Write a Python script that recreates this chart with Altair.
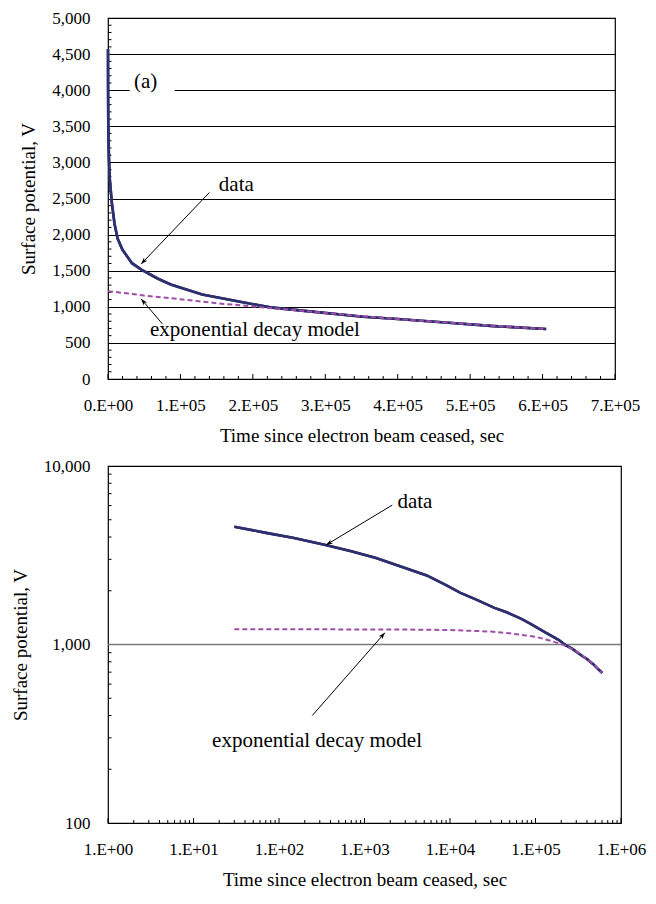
import math
import altair as alt
import pandas as pd

# ---------------- data ----------------
data_t = [30, 68, 150, 350, 700, 1365, 2500, 5350, 9000, 13270, 20000, 33100, 46000,
          68400, 86600, 130000, 186000, 224000, 268000, 352000, 400000, 470000, 533000, 605000]
data_v = [4570, 4235, 3950, 3612, 3330, 3048, 2760, 2437, 2150, 1945, 1790, 1604, 1515,
          1392, 1310, 1170, 1062, 992, 947, 862, 830, 778, 732, 692]

model_t = [30, 300, 3000, 10000, 30000, 50000, 100000, 150000, 200000, 250000,
           300000, 350000, 400000, 450000, 500000, 550000, 605000]
model_v = [1216, 1216, 1213, 1205, 1182, 1155, 1105, 1050, 1005, 960,
           915, 872, 830, 795, 760, 725, 692]

# axis tick values
top_x_ticks = [0, 100000, 200000, 300000, 400000, 500000, 600000, 700000]
top_y_ticks = [0, 500, 1000, 1500, 2000, 2500, 3000, 3500, 4000, 4500, 5000]
bot_x_ticks = [1, 10, 100, 1000, 10000, 100000, 1000000]
bot_y_ticks = [100, 1000, 10000]

# annotations (top panel, linear)
top_txt = ["(a)", "data", "exponential decay model"]
top_txt_t = [52000, 153000, 58000]
top_txt_v = [4116, 2693, 677]
top_txt_align = ["center", "left", "left"]
top_arr_t1 = [140000, 75000]
top_arr_v1 = [2583, 764]
top_arr_t2 = [45800, 45800]
top_arr_v2 = [1593, 1109]
label_box_t = [30000, 92000]
label_box_v = [3880, 4230]

# annotations (bottom panel, log-log)
bot_txt = ["data", "exponential decay model"]
bot_txt_t = [2427, 16.5]
bot_txt_v = [6245, 287]
bot_arr_t1 = [2113, 245]
bot_arr_v1 = [6039, 400]
bot_arr_t2 = [356, 1730]
bot_arr_v2 = [3613, 1163]

FONT = "Liberation Serif"
NAVY = "#2E2F6E"
MAGENTA = "#A04FA6"
W1, H1 = 507, 361
W2, H2 = 513, 357
XT = "Time since electron beam ceased, sec"
YT = "Surface potential, V"
ARROW = "M0,0L-0.8,2.2L0,1.6L0.8,2.2Z"


def angle_of(x1, y1, x2, y2):
    dx, dy = x2 - x1, y2 - y1
    return math.degrees(math.atan2(dx, -dy)) % 360


def px_top(t, v):
    return t / 7e5 * W1, H1 - v / 5000 * H1


def px_bot(t, v):
    return math.log10(t) / 6 * W2, H2 - (math.log10(v) - 2) / 2 * H2


def build_panel(xs, ys, W, H, lines, txt, arr, box, x_axis, y_axis,
                major_x, minor_x, minor_y, grid_rule, pxf, left_pad):
    def X(f):
        return alt.X(f, scale=xs, axis=x_axis, title=XT)

    def Y(f):
        return alt.Y(f, scale=ys, axis=y_axis, title=YT)

    layers = []
    dt, dv, mt, mv = lines
    layers.append(alt.Chart(pd.DataFrame({"t": dt, "v": dv})).mark_line(
        color=NAVY, strokeWidth=2.6).encode(x=X("t:Q"), y=Y("v:Q")))
    if box is not None:
        bdf = pd.DataFrame({"t": [box[0][0]], "t2": [box[0][1]],
                            "v": [box[1][0]], "v2": [box[1][1]]})
        layers.append(alt.Chart(bdf).mark_rect(color="white").encode(
            x=X("t:Q"), x2="t2:Q", y=Y("v:Q"), y2="v2:Q"))
    if grid_rule is not None:
        layers.append(alt.Chart(pd.DataFrame({"v": grid_rule})).mark_rule(
            color="#7a7a7a", strokeWidth=1.6).encode(y=Y("v:Q")))
    # invisible layout spacer (fixes the left extent of the panel)
    layers.append(alt.Chart(pd.DataFrame({"v": [0]})).mark_rule(
        color="white", strokeWidth=1).encode(
        x=alt.value(-left_pad), x2=alt.value(-left_pad + 2), y=alt.value(H / 2)))
    layers.append(alt.Chart(pd.DataFrame({"t": major_x})).mark_rule(
        color="black", strokeWidth=1).encode(
        x=X("t:Q"), y=alt.value(H), y2=alt.value(H - 5)))
    layers.append(alt.Chart(pd.DataFrame({"t": minor_x})).mark_rule(
        color="black", strokeWidth=1).encode(
        x=X("t:Q"), y=alt.value(H), y2=alt.value(H - 3)))
    layers.append(alt.Chart(pd.DataFrame({"v": minor_y})).mark_rule(
        color="black", strokeWidth=1).encode(
        y=Y("v:Q"), x=alt.value(0), x2=alt.value(3.5)))
    layers.append(alt.Chart(pd.DataFrame({"t": dt, "v": dv})).mark_line(
        color=NAVY, strokeWidth=2.6).encode(x=X("t:Q"), y=Y("v:Q")))
    layers.append(alt.Chart(pd.DataFrame({"t": mt, "v": mv})).mark_line(
        color=MAGENTA, strokeWidth=2, strokeDash=[5, 3]).encode(
        x=X("t:Q"), y=Y("v:Q")))
    tx, tt, tv, ta = txt
    for s, t, v, a in zip(tx, tt, tv, ta):
        layers.append(alt.Chart(pd.DataFrame({"t": [t], "v": [v], "s": [s]})).mark_text(
            font=FONT, fontSize=21, align=a, baseline="middle", color="black").encode(
            x=X("t:Q"), y=Y("v:Q"), text="s:N"))
    a_t1, a_v1, a_t2, a_v2 = arr
    adf = pd.DataFrame({"t": a_t1, "v": a_v1, "t2": a_t2, "v2": a_v2})
    angs = []
    for i in range(len(a_t1)):
        p1 = pxf(a_t1[i], a_v1[i])
        p2 = pxf(a_t2[i], a_v2[i])
        angs.append(angle_of(p1[0], p1[1], p2[0], p2[1]))
    adf["ang"] = angs
    layers.append(alt.Chart(adf).mark_rule(color="black", strokeWidth=1).encode(
        x=X("t:Q"), x2="t2:Q", y=Y("v:Q"), y2="v2:Q"))
    layers.append(alt.Chart(adf).mark_point(
        shape=ARROW, filled=True, color="black", size=36, opacity=1).encode(
        x=X("t2:Q"), y=Y("v2:Q"),
        angle=alt.Angle("ang:Q", scale=None)))
    return alt.layer(*layers).properties(width=W, height=H)


# ---------------- top panel ----------------
xs_top = alt.Scale(domain=[0, 700000], nice=False, zero=False)
ys_top = alt.Scale(domain=[0, 5000], nice=False)
top_x_axis = alt.Axis(values=top_x_ticks, grid=False,
                      labelExpr="datum.value == 0 ? '0.E+00' : (datum.value/100000) + '.E+05'")
top_y_axis = alt.Axis(values=top_y_ticks, grid=True,
                      labelExpr="format(datum.value, ',d')")
top_major_x = [v for v in range(0, 700001, 100000)]
top_minor_x = [v for v in range(0, 700001, 20000) if v % 100000 != 0]
top_minor_y = [v for v in range(0, 5001, 100) if v % 500 != 0]

top = build_panel(
    xs_top, ys_top, W1, H1,
    (data_t, data_v, model_t, model_v),
    (top_txt, top_txt_t, top_txt_v, top_txt_align),
    (top_arr_t1, top_arr_v1, top_arr_t2, top_arr_v2),
    (label_box_t, label_box_v),
    top_x_axis, top_y_axis, top_major_x, top_minor_x, top_minor_y, None, px_top,
    left_pad=98)

# ---------------- bottom panel ----------------
xs_bot = alt.Scale(type="log", domain=[1, 1000000], nice=False)
ys_bot = alt.Scale(type="log", domain=[100, 10000], nice=False)
bot_x_axis = alt.Axis(values=bot_x_ticks, grid=False,
                      labelExpr="'1.E+0' + round(log(datum.value)/LN10)")
bot_y_axis = alt.Axis(values=bot_y_ticks, grid=False,
                      labelExpr="format(datum.value, ',d')")
bot_major_x = [10 ** d for d in range(0, 7)]
bot_minor_x = [k * 10 ** d for d in range(0, 6) for k in range(2, 10)]
bot_minor_y = [k * 10 ** d for d in range(2, 4) for k in range(2, 10)]

bottom = build_panel(
    xs_bot, ys_bot, W2, H2,
    (data_t, data_v, model_t, model_v),
    (bot_txt, bot_txt_t, bot_txt_v, ["left", "left"]),
    (bot_arr_t1, bot_arr_v1, bot_arr_t2, bot_arr_v2),
    None,
    bot_x_axis, bot_y_axis, bot_major_x, bot_minor_x, bot_minor_y, [1000], px_bot,
    left_pad=98)

chart = alt.vconcat(top, bottom, spacing=10,
                    padding={"left": 0, "top": 0, "right": 0, "bottom": 0},
                    background="white").configure_view(
    stroke="black", strokeWidth=1.2
).configure_axis(
    labelFont=FONT, titleFont=FONT, labelFontSize=17, titleFontSize=19,
    titleFontWeight="normal", labelColor="black", titleColor="black",
    ticks=False, domain=False, labelFlush=False, labelOverlap=False,
    gridColor="black", gridOpacity=1, gridWidth=1
).configure_axisX(
    labelPadding=18, titlePadding=13
).configure_axisY(
    labelPadding=18, titlePadding=13
)

chart.save("out.html", embed_options={"renderer": "svg", "actions": False})
